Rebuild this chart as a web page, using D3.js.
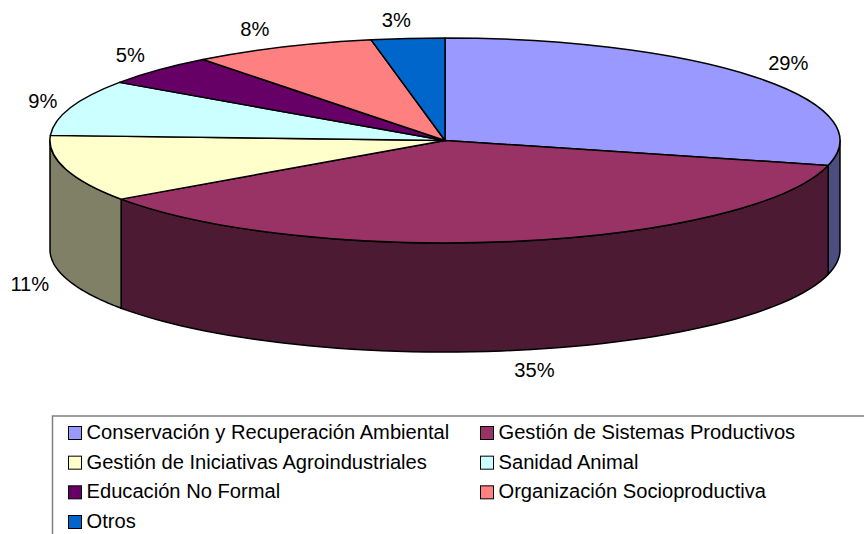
<!DOCTYPE html>
<html>
<head>
<meta charset="utf-8">
<script src="https://cdn.jsdelivr.net/npm/d3@7/dist/d3.min.js"></script>
<style>
  html, body { margin: 0; padding: 0; background: #fff; overflow: hidden; }
  text { font-family: "Liberation Sans", Arial, sans-serif; fill: #000; }
</style>
</head>
<body>
<div id="svg-container"></div>
<script>
(function () {
  var categories = [
    "Conservación y Recuperación Ambiental",
    "Gestión de Sistemas Productivos",
    "Gestión de Iniciativas Agroindustriales",
    "Sanidad Animal",
    "Educación No Formal",
    "Organización Socioproductiva",
    "Otros"
  ];
  // slice shares as measured on the drawn pie
  var shares = [28.9, 36.4, 10.5, 8.8, 4.9, 7.5, 3];
  var labels = ["29%", "35%", "11%", "9%", "5%", "8%", "3%"];
  var colors = ["#9999FF", "#993366", "#FFFFCC", "#CCFFFF", "#660066", "#FF8080", "#0066CC"];

  var width = 864, height = 534;
  var cx = 445, cy = 140.5, rx = 395, ry = 102.5, depth = 109;
  var halfPi = Math.PI / 2;

  var svg = d3.select("#svg-container")
    .append("svg")
    .attr("width", width)
    .attr("height", height)
    .attr("viewBox", "0 0 " + width + " " + height)
    .style("display", "block");

  var slices = d3.pie().sort(null).value(function (d) { return d; })(shares);

  function px(a, grow) { return cx + (rx + (grow || 0)) * Math.sin(a); }
  function py(a, grow) { return cy - (ry + (grow || 0)) * Math.cos(a); }

  // front wall of a slice: the part of its rim that faces the viewer
  function wallPath(d) {
    var a0 = Math.max(d.startAngle, halfPi), a1 = Math.min(d.endAngle, 3 * halfPi);
    if (a1 <= a0) return null;
    var steps = d3.range(0, 61).map(function (i) { return a0 + (a1 - a0) * i / 60; });
    var rim = steps.map(function (a) { return [px(a), py(a)]; });
    var low = steps.slice().reverse().map(function (a) { return [px(a), py(a) + depth]; });
    return d3.line()(rim.concat(low)) + "Z";
  }

  svg.append("g").selectAll("path")
    .data(slices)
    .enter()
    .append("path")
    .attr("d", wallPath)
    .style("fill", function (d, i) {
      var c = d3.rgb(colors[i]);
      return d3.rgb(c.r / 2, c.g / 2, c.b / 2);
    })
    .style("stroke", "#000")
    .style("stroke-width", 1.5)
    .style("stroke-linejoin", "round");

  var arc = d3.arc().innerRadius(0).outerRadius(1);

  svg.append("g")
    .attr("transform", "translate(" + cx + "," + cy + ") scale(" + rx + "," + ry + ")")
    .selectAll("path")
    .data(slices)
    .enter()
    .append("path")
    .attr("d", arc)
    .attr("vector-effect", "non-scaling-stroke")
    .style("fill", function (d, i) { return colors[i]; })
    .style("stroke", "#000")
    .style("stroke-width", 1.5)
    .style("stroke-linejoin", "round");

  // percent labels sit on a larger ellipse, pushed below the wall at the front,
  // then nudged by hand to where the original put them
  var nudgeX = [2, 11, 1, 8, 0, -12, -8];
  var nudgeY = [-1, -2, 0, 0, 0, 2, 3];

  svg.append("g").selectAll("text")
    .data(slices)
    .enter()
    .append("text")
    .attr("text-anchor", "middle")
    .attr("dominant-baseline", "central")
    .style("font-size", "20.15px")
    .attr("x", function (d, i) { return px((d.startAngle + d.endAngle) / 2, 38) + nudgeX[i]; })
    .attr("y", function (d, i) {
      var mid = (d.startAngle + d.endAngle) / 2;
      return py(mid, 22) + (Math.cos(mid) < 0 ? depth : 0) + nudgeY[i];
    })
    .text(function (d, i) { return labels[i]; });

  // legend, runs off the right and bottom of the picture
  var legend = svg.append("g");
  legend.append("rect")
    .attr("x", 52.5)
    .attr("y", 416)
    .attr("width", 900)
    .attr("height", 200)
    .style("fill", "#fff")
    .style("stroke", "#808080")
    .style("stroke-width", 1.5);

  var columnX = d3.scaleOrdinal().domain([0, 1]).range([68.5, 480.5]);
  var rowY = d3.scaleLinear().domain([0, 3]).range([432.5, 521.5]);

  var item = legend.selectAll("g.item")
    .data(categories)
    .enter()
    .append("g")
    .attr("class", "item")
    .attr("transform", function (d, i) {
      return "translate(" + columnX(i % 2) + "," + rowY(Math.floor(i / 2)) + ")";
    });

  item.append("rect")
    .attr("x", 0)
    .attr("y", -6)
    .attr("width", 13)
    .attr("height", 13)
    .style("fill", function (d, i) { return colors[i]; })
    .style("stroke", "#000")
    .style("stroke-width", 1);

  item.append("text")
    .attr("x", 18)
    .attr("y", 6.5)
    .style("font-size", "20.15px")
    .text(function (d) { return d; });
}());
</script>
</body>
</html>
